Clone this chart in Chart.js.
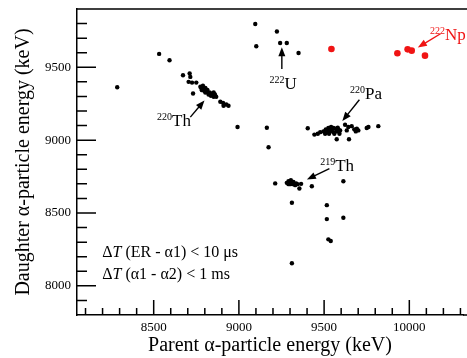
<!DOCTYPE html>
<html>
<head>
<meta charset="utf-8">
<script src="https://cdn.jsdelivr.net/npm/chart.js@4.4.0/dist/chart.umd.min.js"></script>
<style>
  html, body { margin: 0; padding: 0; background: #fff; overflow: hidden; }
  #wrap { width: 467px; height: 358px; }
</style>
</head>
<body>
<div id="wrap"><canvas id="chart"></canvas></div>
<script>
const xTicks = [8500, 9000, 9500, 10000];
const yTicks = [8000, 8500, 9000, 9500];

// black events (parent energy, daughter energy), keV
const blackX = [
  8286, 8532, 8593,
  8672, 8711, 8715, 8705, 8725, 8750, 8731,
  8774, 8789, 8803, 8783, 8793, 8803, 8813, 8822, 8828, 8842, 8852, 8836, 8861, 8852, 8867,
  8780, 8815, 8830, 8845, 8798, 8858,
  8891, 8907, 8926, 8910, 8939, 8992,
  9096, 9223, 9102, 9242, 9281, 9350,
  9164, 9174,
  9404, 9443, 9463, 9477,
  9496, 9510, 9525, 9541, 9555, 9568, 9584, 9594, 9516, 9535, 9555, 9574, 9529, 9560, 9506, 9590,
  9520, 9545, 9580,
  9623, 9642, 9662, 9677, 9633, 9692, 9686, 9701, 9574, 9646, 9750, 9760, 9818,
  9213, 9281, 9291, 9305, 9320, 9336, 9301, 9317, 9330, 9291, 9344, 9310, 9365,
  9355, 9428, 9613,
  9311, 9516, 9516, 9613, 9525, 9539, 9311
];
const blackY = [
  9363, 9592, 9548,
  9445, 9457, 9434, 9400, 9395, 9395, 9320,
  9366, 9373, 9359, 9343, 9350, 9327, 9336, 9313, 9327, 9320, 9327, 9304, 9308, 9297, 9297,
  9355, 9345, 9315, 9310, 9338, 9315,
  9263, 9256, 9245, 9236, 9236, 9090,
  9797, 9746, 9644, 9667, 9667, 9598,
  9085, 8951,
  9082, 9038, 9044, 9055,
  9060, 9074, 9083, 9090, 9083, 9079, 9074, 9067, 9055, 9060, 9055, 9060, 9044, 9044, 9044, 9044,
  9070, 9072, 9085,
  9106, 9090, 9096, 9074, 9067, 9079, 9060, 9067, 9006, 9006, 9083, 9090, 9096,
  8703, 8707, 8718, 8725, 8713, 8702, 8698, 8698, 8691, 8698, 8698, 8708, 8700,
  8668, 8684, 8718,
  8570, 8554, 8458, 8467, 8319, 8308, 8155
];

// red events (222Np)
const redX = [9543, 9930, 9990, 10014, 10092];
const redY = [9626, 9596, 9623, 9614, 9580];

// isotope labels: superscript mass, element, anchor (keV)
const isoMass = ['220', '222', '220', '219', '222'];
const isoName = ['Th', 'U', 'Pa', 'Th', 'Np'];
const isoX = [8520, 9180, 9652, 9477, 10121];
const isoY = [9098, 9354, 9279, 8789, 9689];
const isoRed = [false, false, false, false, true];

// arrows: tail -> head (keV)
const arrowFromX = [8715, 9252, 9707, 9531, 10183];
const arrowFromY = [9158, 9489, 9277, 8805, 9730];
const arrowToX = [8798, 9252, 9607, 9399, 10050];
const arrowToY = [9272, 9637, 9131, 8730, 9636];

const RED = '#f01414';
const SERIF = '"Liberation Serif", "DejaVu Serif", serif';

function drawRuns(ctx, runs, px, py) {
  let cx = px;
  runs.forEach((r) => {
    ctx.font = r.font;
    ctx.fillText(r.text, cx, py + (r.dy || 0));
    cx += ctx.measureText(r.text).width;
  });
}

const decorations = {
  id: 'decorations',
  afterDatasetsDraw(chart) {
    const { ctx, chartArea: a, scales: { x, y } } = chart;
    ctx.save();

    // frame top + inward ticks
    ctx.strokeStyle = '#000';
    ctx.lineWidth = 1.5;
    ctx.beginPath();
    ctx.moveTo(a.left, a.top);
    ctx.lineTo(chart.width, a.top);
    for (let v = 8100; v <= x.max; v += 100) {
      const px = x.getPixelForValue(v);
      const len = v % 500 === 0 ? 15 : 7;
      ctx.moveTo(px, a.bottom);
      ctx.lineTo(px, a.bottom - len);
    }
    for (let v = 7900; v <= y.max; v += 100) {
      const py = y.getPixelForValue(v);
      const len = v % 500 === 0 ? 19 : 10;
      ctx.moveTo(a.left, py);
      ctx.lineTo(a.left + len, py);
    }
    ctx.moveTo(a.right, a.bottom);
    ctx.lineTo(chart.width, a.bottom);
    ctx.stroke();

    // arrows
    ctx.lineWidth = 1.4;
    arrowFromX.forEach((fx, i) => {
      const x0 = x.getPixelForValue(fx);
      const y0 = y.getPixelForValue(arrowFromY[i]);
      const x1 = x.getPixelForValue(arrowToX[i]);
      const y1 = y.getPixelForValue(arrowToY[i]);
      const ang = Math.atan2(y1 - y0, x1 - x0);
      const color = isoRed[i] ? RED : '#000';
      ctx.strokeStyle = color;
      ctx.fillStyle = color;
      ctx.beginPath();
      ctx.moveTo(x0, y0);
      ctx.lineTo(x1 - 6 * Math.cos(ang), y1 - 6 * Math.sin(ang));
      ctx.stroke();
      ctx.beginPath();
      ctx.moveTo(x1, y1);
      ctx.lineTo(x1 - 9 * Math.cos(ang) + 3.5 * Math.sin(ang), y1 - 9 * Math.sin(ang) - 3.5 * Math.cos(ang));
      ctx.lineTo(x1 - 9 * Math.cos(ang) - 3.5 * Math.sin(ang), y1 - 9 * Math.sin(ang) + 3.5 * Math.cos(ang));
      ctx.closePath();
      ctx.fill();
    });

    // isotope labels
    ctx.textBaseline = 'alphabetic';
    ctx.textAlign = 'left';
    isoMass.forEach((mass, i) => {
      ctx.fillStyle = isoRed[i] ? RED : '#000';
      drawRuns(ctx, [
        { text: mass, font: `10px ${SERIF}`, dy: -6 },
        { text: isoName[i], font: `17px ${SERIF}` }
      ], x.getPixelForValue(isoX[i]), y.getPixelForValue(isoY[i]));
    });

    // timing cuts
    ctx.fillStyle = '#000';
    const tx = x.getPixelForValue(8198);
    drawRuns(ctx, [
      { text: '\u0394', font: `16px ${SERIF}` },
      { text: 'T', font: `italic 16px ${SERIF}` },
      { text: ' (ER - \u03b11) < 10 \u03bcs', font: `16px ${SERIF}` }
    ], tx, y.getPixelForValue(8196));
    drawRuns(ctx, [
      { text: '\u0394', font: `16px ${SERIF}` },
      { text: 'T', font: `italic 16px ${SERIF}` },
      { text: ' (\u03b11 - \u03b12) < 1 ms', font: `16px ${SERIF}` }
    ], tx, y.getPixelForValue(8046));

    ctx.restore();
  }
};

new Chart(document.getElementById('chart'), {
  type: 'scatter',
  data: {
    datasets: [
      {
        data: blackX.map((v, i) => ({ x: v, y: blackY[i] })),
        backgroundColor: '#000',
        borderWidth: 0,
        pointRadius: 2.2
      },
      {
        data: redX.map((v, i) => ({ x: v, y: redY[i] })),
        backgroundColor: RED,
        borderWidth: 0,
        pointRadius: 3.3
      }
    ]
  },
  options: {
    responsive: true,
    maintainAspectRatio: false,
    animation: false,
    layout: { padding: { top: 9, right: 0, left: 0, bottom: 0 } },
    plugins: { legend: { display: false }, tooltip: { enabled: false } },
    scales: {
      x: {
        type: 'linear',
        min: 8050,
        max: 10315,
        afterBuildTicks: (scale) => { scale.ticks = xTicks.map((v) => ({ value: v })); },
        afterFit: (scale) => {
          scale.height = 43;
          scale.paddingLeft = 0;
          scale.paddingRight = 0;
        },
        grid: { display: false, drawTicks: false, tickLength: 0 },
        border: { display: true, color: '#000', width: 1.5 },
        ticks: {
          color: '#000',
          font: { family: SERIF, size: 13 },
          padding: 5,
          maxRotation: 0,
          callback: (v) => String(v)
        },
        title: {
          display: true,
          text: 'Parent \u03b1-particle energy (keV)',
          color: '#000',
          font: { family: SERIF, size: 20 },
          padding: { top: 0, bottom: 0 }
        }
      },
      y: {
        type: 'linear',
        min: 7800,
        max: 9900,
        afterBuildTicks: (scale) => { scale.ticks = yTicks.map((v) => ({ value: v })); },
        afterFit: (scale) => {
          scale.width = 77;
          scale.paddingTop = 0;
          scale.paddingBottom = 0;
        },
        grid: { display: false, drawTicks: false, tickLength: 0 },
        border: { display: true, color: '#000', width: 1.5 },
        ticks: {
          color: '#000',
          font: { family: SERIF, size: 13 },
          padding: 6,
          callback: (v) => String(v)
        },
        title: {
          display: true,
          text: 'Daughter \u03b1-particle energy (keV)',
          color: '#000',
          font: { family: SERIF, size: 20 },
          padding: { top: 12, bottom: 0 }
        }
      }
    }
  },
  plugins: [decorations]
});
</script>
</body>
</html>
